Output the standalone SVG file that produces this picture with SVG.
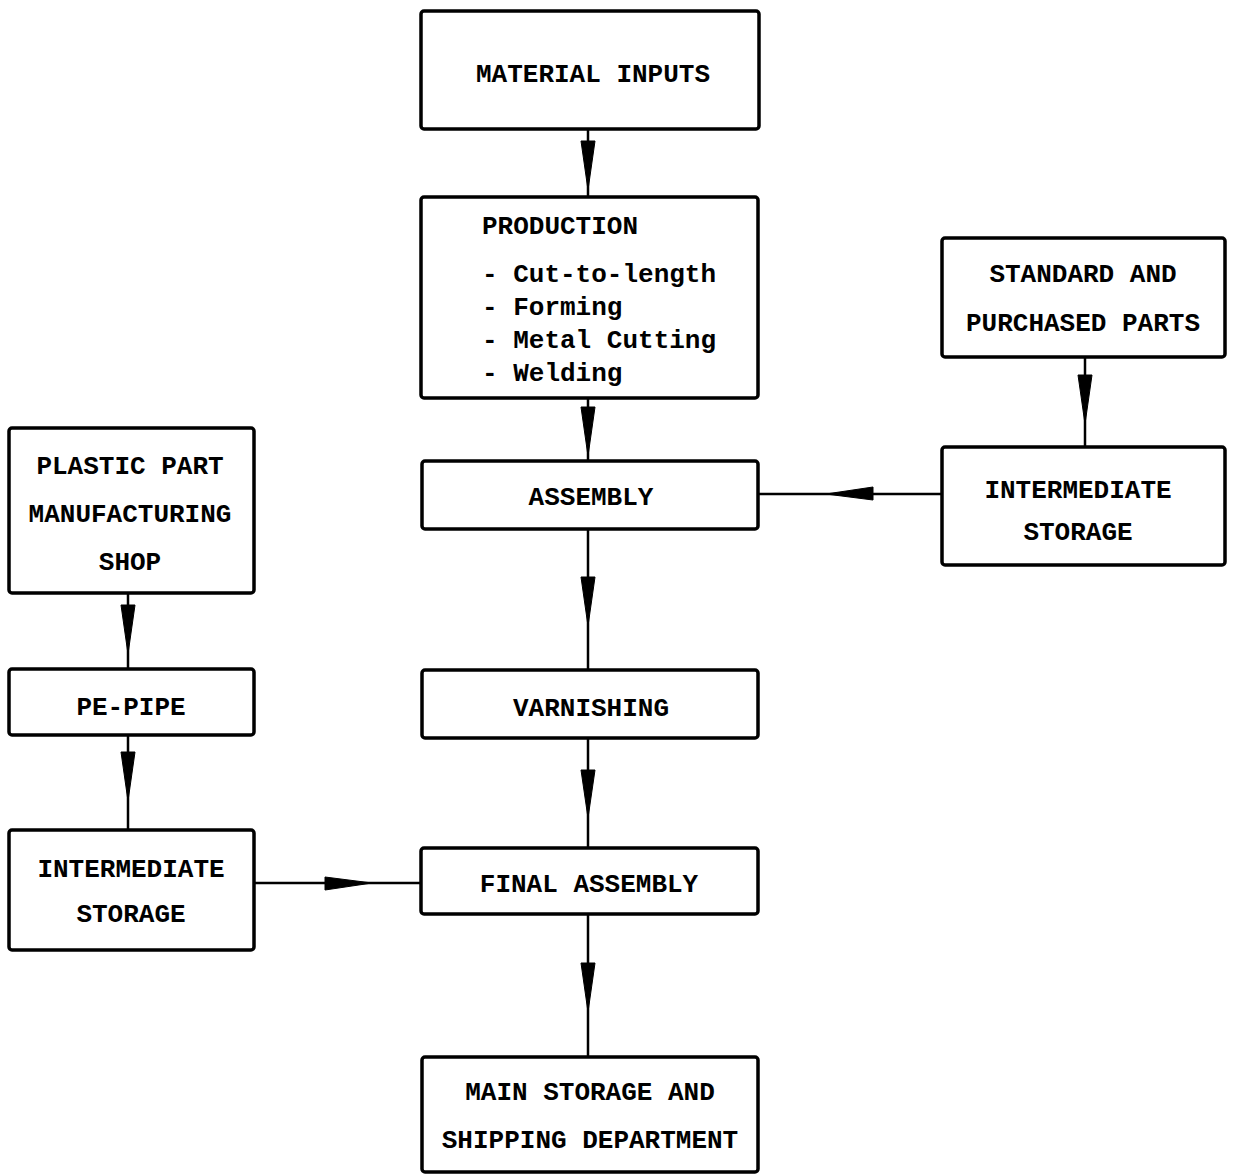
<svg xmlns="http://www.w3.org/2000/svg" width="1233" height="1176" viewBox="0 0 1233 1176">
  <style>
    .box { fill: #fff; stroke: #000; stroke-width: 3.5; }
    .lbl { font-family: "Liberation Mono", "DejaVu Sans Mono", monospace; font-weight: bold; font-size: 26px; fill: #000; }
    .c { text-anchor: middle; }
    .wire { stroke: #000; stroke-width: 2.5; fill: none; }
    .head { fill: #000; stroke: #000; stroke-width: 1; stroke-linejoin: round; }
  </style>
  <rect width="1233" height="1176" fill="#fff"/>

  <!-- connectors -->
  <g id="connectors">
    <!-- main column -->
    <line class="wire" x1="588" y1="129" x2="588" y2="196"/>
    <polygon class="head" points="581,141 595,141 588,190"/>
    <line class="wire" x1="588" y1="398" x2="588" y2="461"/>
    <polygon class="head" points="581,407 595,407 588,456"/>
    <line class="wire" x1="588" y1="529" x2="588" y2="670"/>
    <polygon class="head" points="581,577 595,577 588,626"/>
    <line class="wire" x1="588" y1="738" x2="588" y2="848"/>
    <polygon class="head" points="581,770 595,770 588,818"/>
    <line class="wire" x1="588" y1="914" x2="588" y2="1057"/>
    <polygon class="head" points="581,963 595,963 588,1012"/>
    <!-- right branch -->
    <line class="wire" x1="1085" y1="357" x2="1085" y2="447"/>
    <polygon class="head" points="1078,375 1092,375 1085,424"/>
    <line class="wire" x1="942" y1="494" x2="758" y2="494"/>
    <polygon class="head" points="873,487 873,500 826,494"/>
    <!-- left branch -->
    <line class="wire" x1="128" y1="593" x2="128" y2="669"/>
    <polygon class="head" points="121,605 135,605 128,654"/>
    <line class="wire" x1="128" y1="735" x2="128" y2="830"/>
    <polygon class="head" points="121,752 135,752 128,801"/>
    <line class="wire" x1="254" y1="883" x2="421" y2="883"/>
    <polygon class="head" points="325,877 325,890 372,883"/>
  </g>

  <g id="material-inputs">
    <rect class="box" x="421" y="11" width="338" height="118" rx="3"/>
    <text class="lbl c" x="593" y="82">MATERIAL INPUTS</text>
  </g>

  <g id="production">
    <rect class="box" x="421" y="197" width="337" height="201" rx="3"/>
    <text class="lbl" x="482" y="234">PRODUCTION</text>
    <text class="lbl" x="482" y="282">- Cut-to-length</text>
    <text class="lbl" x="482" y="315">- Forming</text>
    <text class="lbl" x="482" y="348">- Metal Cutting</text>
    <text class="lbl" x="482" y="381">- Welding</text>
  </g>

  <g id="assembly">
    <rect class="box" x="422" y="461" width="336" height="68" rx="3"/>
    <text class="lbl c" x="591" y="505">ASSEMBLY</text>
  </g>

  <g id="varnishing">
    <rect class="box" x="422" y="670" width="336" height="68" rx="3"/>
    <text class="lbl c" x="591" y="716">VARNISHING</text>
  </g>

  <g id="final-assembly">
    <rect class="box" x="421" y="848" width="337" height="66" rx="3"/>
    <text class="lbl c" x="589" y="892">FINAL ASSEMBLY</text>
  </g>

  <g id="main-storage">
    <rect class="box" x="422" y="1057" width="336" height="115" rx="3"/>
    <text class="lbl c" x="590" y="1100">MAIN STORAGE AND</text>
    <text class="lbl c" x="590" y="1148">SHIPPING DEPARTMENT</text>
  </g>

  <g id="standard-parts">
    <rect class="box" x="942" y="238" width="283" height="119" rx="3"/>
    <text class="lbl c" x="1083" y="282">STANDARD AND</text>
    <text class="lbl c" x="1083" y="331">PURCHASED PARTS</text>
  </g>

  <g id="intermediate-storage-right">
    <rect class="box" x="942" y="447" width="283" height="118" rx="3"/>
    <text class="lbl c" x="1078" y="498">INTERMEDIATE</text>
    <text class="lbl c" x="1078" y="540">STORAGE</text>
  </g>

  <g id="plastic-shop">
    <rect class="box" x="9" y="428" width="245" height="165" rx="3"/>
    <text class="lbl c" x="130" y="474">PLASTIC PART</text>
    <text class="lbl c" x="130" y="522">MANUFACTURING</text>
    <text class="lbl c" x="130" y="570">SHOP</text>
  </g>

  <g id="pe-pipe">
    <rect class="box" x="9" y="669" width="245" height="66" rx="3"/>
    <text class="lbl c" x="131" y="715">PE-PIPE</text>
  </g>

  <g id="intermediate-storage-left">
    <rect class="box" x="9" y="830" width="245" height="120" rx="3"/>
    <text class="lbl c" x="131" y="877">INTERMEDIATE</text>
    <text class="lbl c" x="131" y="922">STORAGE</text>
  </g>
</svg>
